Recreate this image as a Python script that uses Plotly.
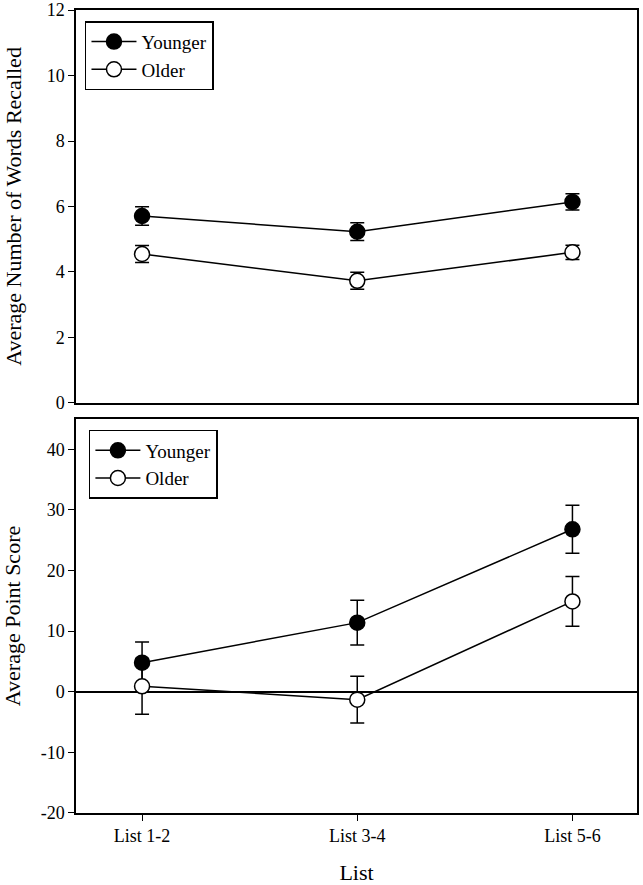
import plotly.graph_objects as go
from plotly.subplots import make_subplots

lists = ["List 1-2", "List 3-4", "List 5-6"]
groups = ["Younger", "Older"]

# Top panel: average number of words recalled
words_younger = [5.71, 5.23, 6.14]
words_younger_se = [0.28, 0.27, 0.25]
words_older = [4.55, 3.73, 4.60]
words_older_se = [0.26, 0.26, 0.22]
words_ticks = [0, 2, 4, 6, 8, 10, 12]

# Bottom panel: average point score
score_younger = [4.8, 11.4, 26.8]
score_younger_se = [3.4, 3.7, 3.95]
score_older = [0.9, -1.3, 14.9]
score_older_se = [4.6, 3.85, 4.1]
score_ticks = [-20, -10, 0, 10, 20, 30, 40]

xpos = list(range(len(lists)))
FONT = "Liberation Serif, Times New Roman, serif"

fig = make_subplots(rows=2, cols=1, vertical_spacing=0.02)
fig.update_layout(
    width=643, height=885,
    margin=dict(l=76, r=6, t=10, b=72),
    paper_bgcolor="white", plot_bgcolor="white",
    font=dict(family=FONT, size=18, color="black"),
)
fig.update_yaxes(row=1, col=1, domain=[0.5106, 1.0])
fig.update_yaxes(row=2, col=1, domain=[0.0, 0.4907])


def add_series(row, y, se, name, fill, legend):
    fig.add_trace(go.Scatter(
        x=xpos, y=y, name=name, mode="lines+markers",
        line=dict(color="black", width=1.5),
        marker=dict(size=15, color=fill, line=dict(color="black", width=1.5)),
        error_y=dict(type="data", array=se, visible=True, color="black",
                     thickness=1.5, width=7),
        legend=legend,
    ), row=row, col=1)


add_series(1, words_younger, words_younger_se, groups[0], "black", "legend")
add_series(1, words_older, words_older_se, groups[1], "white", "legend")
add_series(2, score_younger, score_younger_se, groups[0], "black", "legend2")
add_series(2, score_older, score_older_se, groups[1], "white", "legend2")

xr = [-0.307, 2.30]
axis_common = dict(showline=True, linecolor="black", linewidth=1.5, mirror=True,
                   showgrid=False, automargin=False)
fig.update_xaxes(row=1, col=1, range=xr, showticklabels=False, ticks="",
                 zeroline=False, **axis_common)
fig.update_xaxes(row=2, col=1, range=xr, tickvals=xpos, ticktext=lists,
                 ticks="outside", ticklen=6, tickcolor="black", zeroline=False,
                 title=dict(text="List", font=dict(size=22), standoff=24),
                 **axis_common)
fig.update_yaxes(row=1, col=1, range=[0, 12], tickvals=words_ticks,
                 ticktext=[str(t) for t in words_ticks],
                 ticks="outside", ticklen=6, tickcolor="black", zeroline=False,
                 title=dict(text="Average Number of Words Recalled", font=dict(size=22),
                            standoff=19),
                 **axis_common)
fig.update_yaxes(row=2, col=1, range=[-20, 45], tickvals=score_ticks,
                 ticktext=[str(t) for t in score_ticks],
                 ticks="outside", ticklen=6, tickcolor="black",
                 zeroline=True, zerolinecolor="black", zerolinewidth=1.5,
                 title=dict(text="Average Point Score", font=dict(size=22), standoff=19),
                 **axis_common)

legend_style = dict(bgcolor="white", bordercolor="black", borderwidth=1.5,
                    font=dict(size=19, family=FONT), xanchor="left", yanchor="top",
                    itemwidth=45, tracegroupgap=4)
fig.update_layout(
    legend=dict(x=0.016, y=0.986, **legend_style),
    legend2=dict(x=0.023, y=0.477, **legend_style),
)

# remove the browser's default 8px body margin so the figure fills the window
fig.write_html("out.html", config={"displayModeBar": False},
               post_script="document.body.style.margin='0';")
